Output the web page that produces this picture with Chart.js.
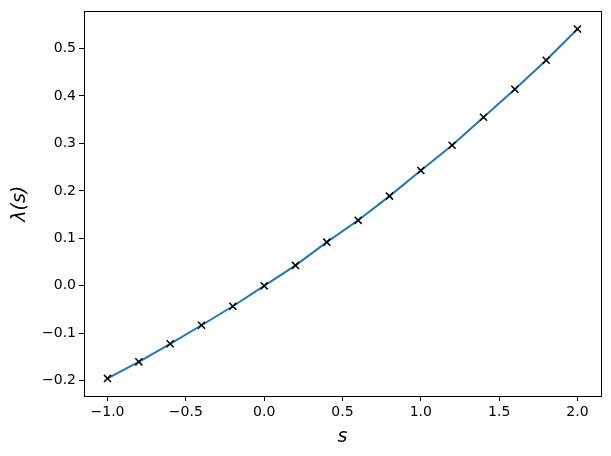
<!DOCTYPE html>
<html lang="en">
<head>
    <meta charset="UTF-8">
    <title>lambda(s)</title>
    <style>
        body {
            margin: 0;
            padding: 0;
            background-color: #fff;
        }
        #chart {
            display: block;
        }
    </style>
</head>
<body>
    <canvas id="chart" width="611" height="456"></canvas>

    <script src="https://cdn.jsdelivr.net/npm/chart.js"></script>
    <script>
        // data
        const sValues = [-1.0, -0.8, -0.6, -0.4, -0.2, 0.0, 0.2, 0.4, 0.6, 0.8, 1.0, 1.2, 1.4, 1.6, 1.8, 2.0];
        const lambdaValues = [-0.195, -0.160, -0.122, -0.083, -0.043, 0.0, 0.043, 0.092, 0.138, 0.189, 0.243, 0.296, 0.355, 0.414, 0.475, 0.541];
        const xTicks = [-1.0, -0.5, 0.0, 0.5, 1.0, 1.5, 2.0];
        const yTicks = [-0.2, -0.1, 0.0, 0.1, 0.2, 0.3, 0.4, 0.5];

        const fmt = v => (v < 0 ? '\u2212' : '') + Math.abs(v).toFixed(1);

        // frame round the plot area (matplotlib box)
        const boxPlugin = {
            id: 'box',
            afterDraw(chart) {
                const a = chart.chartArea;
                const ctx = chart.ctx;
                ctx.save();
                ctx.strokeStyle = '#000';
                ctx.lineWidth = 1;
                ctx.strokeRect(Math.round(a.left) + 0.5, Math.round(a.top) + 0.5,
                    Math.round(a.right - a.left), Math.round(a.bottom - a.top));
                ctx.restore();
            }
        };

        const tickFont = { family: 'DejaVu Sans', size: 14 };
        const titleFont = { family: 'DejaVu Sans', size: 19, style: 'italic' };

        new Chart(document.getElementById('chart').getContext('2d'), {
            type: 'scatter',
            data: {
                datasets: [{
                    data: sValues.map((s, i) => ({ x: s, y: lambdaValues[i] })),
                    showLine: true,
                    borderColor: '#1f77b4',
                    borderWidth: 2,
                    pointStyle: 'crossRot',
                    pointRadius: 5,
                    pointBorderColor: '#000',
                    pointBorderWidth: 1.5,
                    pointBackgroundColor: '#000'
                }]
            },
            options: {
                responsive: false,
                animation: false,
                layout: { padding: { top: 10, right: 10 } },
                plugins: {
                    legend: { display: false },
                    tooltip: { enabled: false }
                },
                scales: {
                    x: {
                        type: 'linear',
                        min: -1.15,
                        max: 2.15,
                        afterBuildTicks: axis => { axis.ticks = xTicks.map(v => ({ value: v })); },
                        afterFit: axis => { axis.height = 60; },
                        grid: { drawOnChartArea: false, drawTicks: true, tickLength: 5, tickColor: '#000' },
                        border: { display: true, color: '#000' },
                        ticks: { color: '#000', font: tickFont, padding: 3, maxRotation: 0, callback: v => fmt(v) },
                        title: { display: true, text: 's', color: '#000', font: titleFont, padding: { top: 2, bottom: 8 } }
                    },
                    y: {
                        type: 'linear',
                        min: -0.232,
                        max: 0.578,
                        afterBuildTicks: axis => { axis.ticks = yTicks.map(v => ({ value: v })); },
                        afterFit: axis => { axis.width = 84; },
                        grid: { drawOnChartArea: false, drawTicks: true, tickLength: 5, tickColor: '#000' },
                        border: { display: true, color: '#000' },
                        ticks: { color: '#000', font: tickFont, padding: 3, callback: v => fmt(v) },
                        title: { display: true, text: 'λ(s)', color: '#000', font: titleFont, padding: { top: 9, bottom: 4 } }
                    }
                }
            },
            plugins: [boxPlugin]
        });
    </script>
</body>
</html>
